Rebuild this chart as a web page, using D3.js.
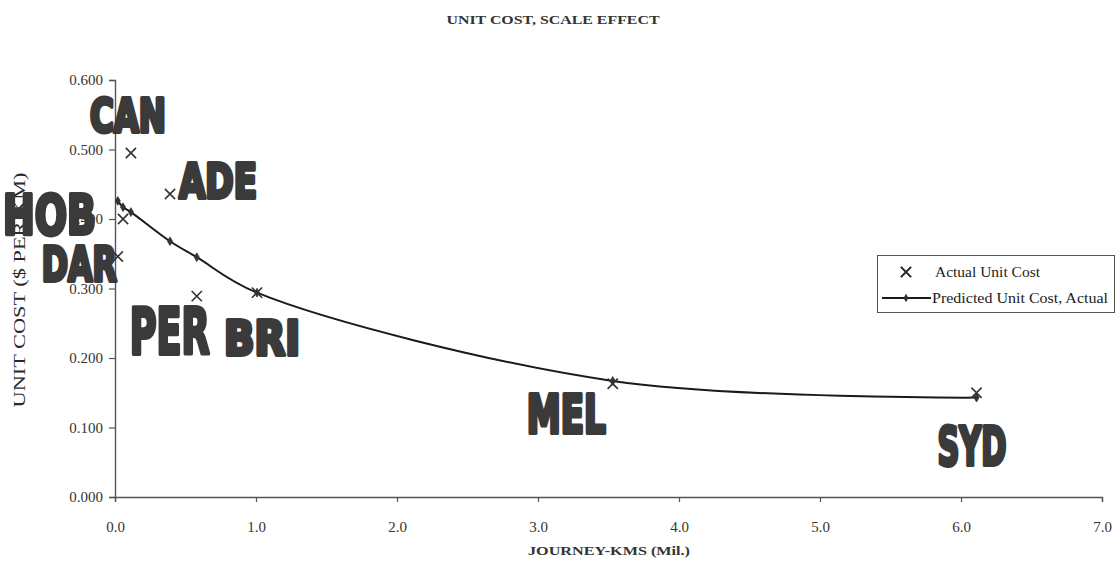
<!DOCTYPE html>
<html>
<head>
<meta charset="utf-8">
<script src="https://cdn.jsdelivr.net/npm/d3@7"></script>
<style>
  html, body { margin: 0; padding: 0; background: #fff; }
  svg { display: block; }
  .serif { font-family: "Liberation Serif", "Times New Roman", serif; fill: #2a2a2a; }
  .city { font-family: "Liberation Sans Narrow", "DejaVu Sans Condensed", "Liberation Sans", sans-serif; font-weight: bold; }
</style>
</head>
<body>
<svg id="chart" width="1119" height="562"></svg>
<script>
// ---------------- data ----------------
const cities = ["DAR", "HOB", "CAN", "ADE", "PER", "BRI", "MEL", "SYD"];
const journeyKms = [0.02, 0.057, 0.113, 0.39, 0.58, 1.007, 3.53, 6.11];
const actualUnitCost = [0.346, 0.400, 0.495, 0.436, 0.289, 0.294, 0.163, 0.150];
const predictedUnitCost = [0.426, 0.417, 0.410, 0.368, 0.345, 0.294, 0.167, 0.143];
const xTicks = [0, 1, 2, 3, 4, 5, 6, 7];
const yTicks = [0, 0.1, 0.2, 0.3, 0.4, 0.5, 0.6];
const seriesNames = ["Actual Unit Cost", "Predicted Unit Cost, Actual"];
const chartTitle = "UNIT COST, SCALE EFFECT";
const xTitle = "JOURNEY-KMS (Mil.)";
const yTitle = "UNIT COST ($ PER KM)";

// ---------------- layout (pixel offsets of the big city labels from their marker) ----------------
const labelLayout = [
  { dx: -78, dy: 26, w: 79, h: 38 },   // DAR
  { dx: -122, dy: 17, w: 97, h: 44 },  // HOB
  { dx: -43, dy: -19, w: 80, h: 37 },  // CAN
  { dx: 7, dy: 6, w: 82, h: 38 },      // ADE
  { dx: -69, dy: 60, w: 84, h: 50 },   // PER
  { dx: -35, dy: 64, w: 80, h: 39 },   // BRI
  { dx: -88, dy: 51, w: 83, h: 42 },   // MEL
  { dx: -41, dy: 74, w: 73, h: 43 }    // SYD
];

const svg = d3.select("#chart");
const x = d3.scaleLinear().domain([0, 7]).range([115, 1102]);
const y = d3.scaleLinear().domain([0, 0.6]).range([497, 80]);

// title
svg.append("text").attr("class", "serif").attr("x", 553).attr("y", 24).attr("text-anchor", "middle")
  .style("font-size", "13px").style("font-weight", "bold").style("fill", "#333")
  .attr("textLength", 213).attr("lengthAdjust", "spacingAndGlyphs")
  .text(chartTitle);

// axes
const xAxis = svg.append("g").attr("transform", `translate(0,${y(0)})`)
  .call(d3.axisBottom(x).tickValues(xTicks).tickFormat(d3.format(".1f")).tickSize(5).tickPadding(19));
const yAxis = svg.append("g").attr("transform", `translate(${x(0)},0)`)
  .call(d3.axisLeft(y).tickValues(yTicks).tickFormat(d3.format(".3f")).tickSize(6).tickPadding(6));
[xAxis, yAxis].forEach(g => {
  g.selectAll("path.domain").attr("stroke", "#555").attr("stroke-width", 1.4);
  g.selectAll(".tick line").attr("stroke", "#555").attr("stroke-width", 1.2);
  g.selectAll(".tick text").attr("class", "serif")
    .style("font-size", "15px").style("fill", "#333");
});

// axis titles
svg.append("text").attr("class", "serif").attr("x", 609).attr("y", 555).attr("text-anchor", "middle")
  .style("font-size", "13px").style("font-weight", "bold").style("fill", "#333")
  .attr("textLength", 162).attr("lengthAdjust", "spacingAndGlyphs")
  .text(xTitle);
svg.append("text").attr("class", "serif").attr("transform", "translate(25,290) rotate(-90)").attr("text-anchor", "middle")
  .style("font-size", "17px")
  .attr("textLength", 235).attr("lengthAdjust", "spacingAndGlyphs")
  .text(yTitle);

const rows = cities.map((c, i) => ({
  city: c, jk: journeyKms[i], actual: actualUnitCost[i], pred: predictedUnitCost[i], lay: labelLayout[i]
}));

// predicted line
const line = d3.line().x(d => x(d.jk)).y(d => y(d.pred)).curve(d3.curveCatmullRom.alpha(0.5));
svg.append("path").datum(rows).attr("d", line)
  .attr("fill", "none").attr("stroke", "#1a1a1a").attr("stroke-width", 2);
const diamond = d3.symbol().type(d3.symbolDiamond).size(22);
svg.selectAll("path.pm").data(rows).join("path").attr("class", "pm")
  .attr("d", diamond).attr("transform", d => `translate(${x(d.jk)},${y(d.pred)})`)
  .attr("fill", "#333").attr("stroke", "#333").attr("stroke-width", 0.8);

// actual markers (X)
const cross = d3.symbol().type(d3.symbolX).size(70);
svg.selectAll("path.am").data(rows).join("path").attr("class", "am")
  .attr("d", cross).attr("transform", d => `translate(${x(d.jk)},${y(d.actual)})`)
  .attr("fill", "none").attr("stroke", "#333").attr("stroke-width", 1.6);

// big city labels
svg.selectAll("text.city").data(rows).join("text").attr("class", "city")
  .attr("x", d => x(d.jk) + d.lay.dx + 2)
  .attr("y", d => y(d.actual) + d.lay.dy - 2)
  .style("font-size", d => ((d.lay.h - 4) / 0.72) + "px")
  .attr("textLength", d => d.lay.w - 4).attr("lengthAdjust", "spacingAndGlyphs")
  .style("fill", "#3a3a3a").style("stroke", "#3a3a3a").style("stroke-width", "4px")
  .style("stroke-linejoin", "round")
  .text(d => d.city);

// legend
const lg = svg.append("g");
lg.append("rect").attr("x", 877.5).attr("y", 255.5).attr("width", 237).attr("height", 57)
  .attr("fill", "#fff").attr("stroke", "#555").attr("stroke-width", 1);
lg.append("path").attr("d", cross).attr("transform", "translate(906,272)")
  .attr("fill", "none").attr("stroke", "#222").attr("stroke-width", 2);
lg.append("text").attr("class", "serif").attr("x", 935).attr("y", 277).style("font-size", "15.5px").style("fill", "#222")
  .attr("textLength", 105).attr("lengthAdjust", "spacingAndGlyphs")
  .text(seriesNames[0]);
lg.append("line").attr("x1", 882).attr("x2", 931).attr("y1", 298).attr("y2", 298)
  .attr("stroke", "#1a1a1a").attr("stroke-width", 2);
lg.append("path").attr("d", diamond).attr("transform", "translate(906,298)").attr("fill", "#333");
lg.append("text").attr("class", "serif").attr("x", 932).attr("y", 303).style("font-size", "15.5px").style("fill", "#222")
  .attr("textLength", 176).attr("lengthAdjust", "spacingAndGlyphs")
  .text(seriesNames[1]);
</script>
</body>
</html>
